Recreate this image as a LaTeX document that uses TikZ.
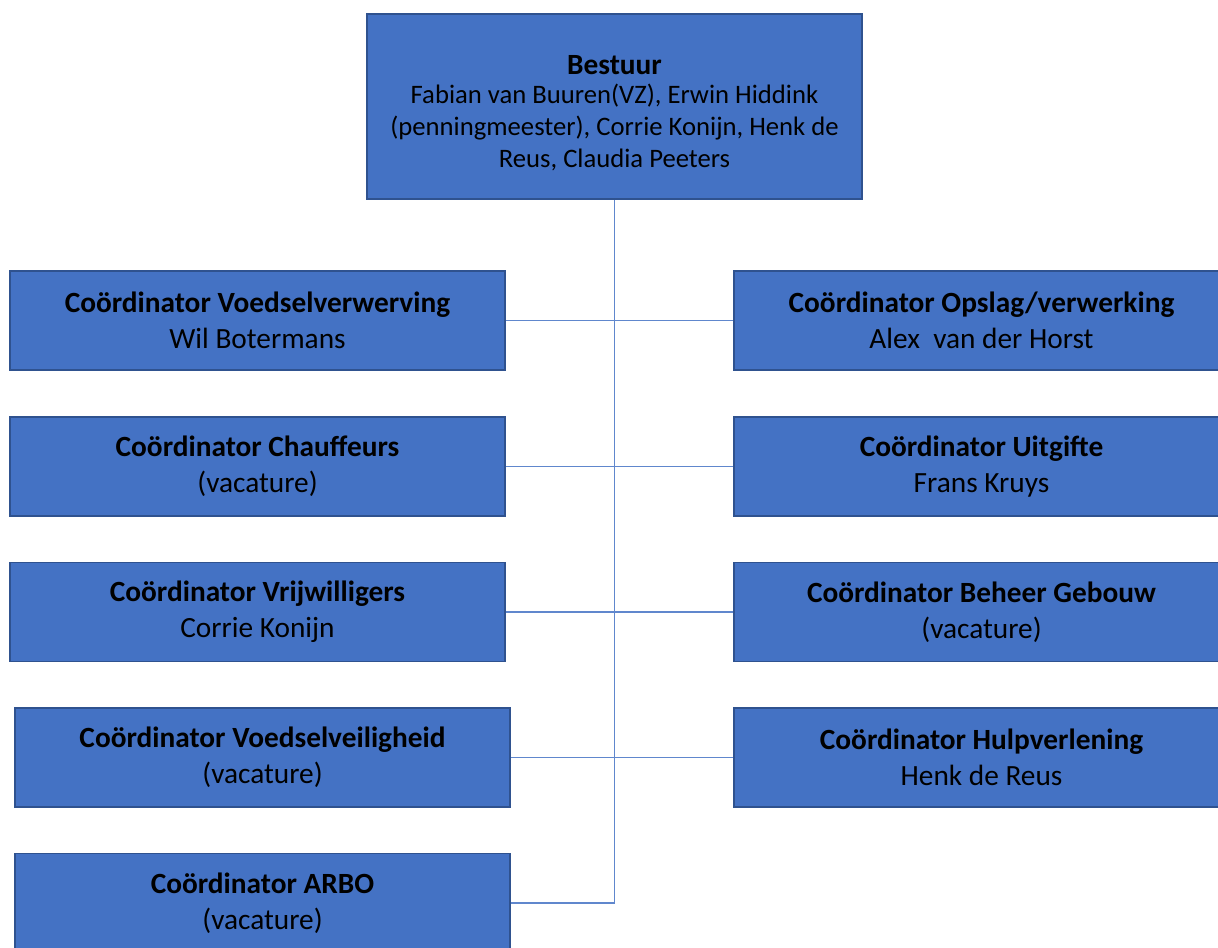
\documentclass[tikz,border=0pt]{standalone}
\usepackage{fontspec}
\setmainfont{Carlito}
\usepackage{xcolor}
\usepackage{tikz}
\definecolor{boxblue}{HTML}{4472C4}
\definecolor{boxedge}{HTML}{2F528F}
\newcommand{\rol}[2]{\textbf{#1}\\#2}

\begin{document}
\begin{tikzpicture}[x=0.75pt,y=-0.75pt,inner sep=1mm]
    \tikzstyle{post}=[rectangle,draw=boxedge,fill=boxblue,line width=1.3pt,
        minimum width=371.25pt,minimum height=74.25pt,align=center,
        font=\fontsize{22pt}{27pt}\selectfont]
    \tikzstyle{conn}=[draw=boxblue!85,line width=0.9pt]
    \useasboundingbox (0,0) rectangle (1218,947);
    \clip (0,0) rectangle (1218,947);

    \node[post,minimum height=138.75pt,font=\fontsize{20pt}{24pt}\selectfont] (bestuur) at (614.5,106.5)
        {\rule{0pt}{24pt}\textbf{\fontsize{22pt}{24pt}\selectfont Bestuur}\\[-2pt]Fabian van Buuren(VZ), Erwin Hiddink\\(penningmeester), Corrie Konijn, Henk de\\Reus, Claudia Peeters};

    % left column
    \node[post] (l1) at (257.5,320.5) {\rol{Coördinator Voedselverwerving}{Wil Botermans}};
    \node[post] (l2) at (257.5,466.5) {\rol{Coördinator Chauffeurs}{(vacature)}};
    \node[post] (l3) at (257.5,612) {\rol{Coördinator Vrijwilligers}{Corrie Konijn}};
    \node[post] (l4) at (262.5,757.5) {\rol{Coördinator Voedselveiligheid}{(vacature)}};
    \node[post] (arbo) at (262.5,903) {\rol{Coördinator ARBO}{(vacature)}};

    % right column
    \node[post] (r1) at (981.5,320.5) {\rol{Coördinator Opslag/verwerking}{Alex\ \ van der Horst}};
    \node[post] (r2) at (981.5,466.5) {\rol{Coördinator Uitgifte}{Frans Kruys}};
    \node[post] (r3) at (981.5,612) {\rol{Coördinator Beheer Gebouw}{(vacature)}};
    \node[post] (r4) at (981.5,757.5) {\rol{Coördinator Hulpverlening}{Henk de Reus}};

    \draw[conn] (arbo.east) -| (bestuur.south);
    \foreach \i in {1,...,4} {
        \draw[conn] (l\i.east) -- (r\i.west);
    };
\end{tikzpicture}
\end{document}
